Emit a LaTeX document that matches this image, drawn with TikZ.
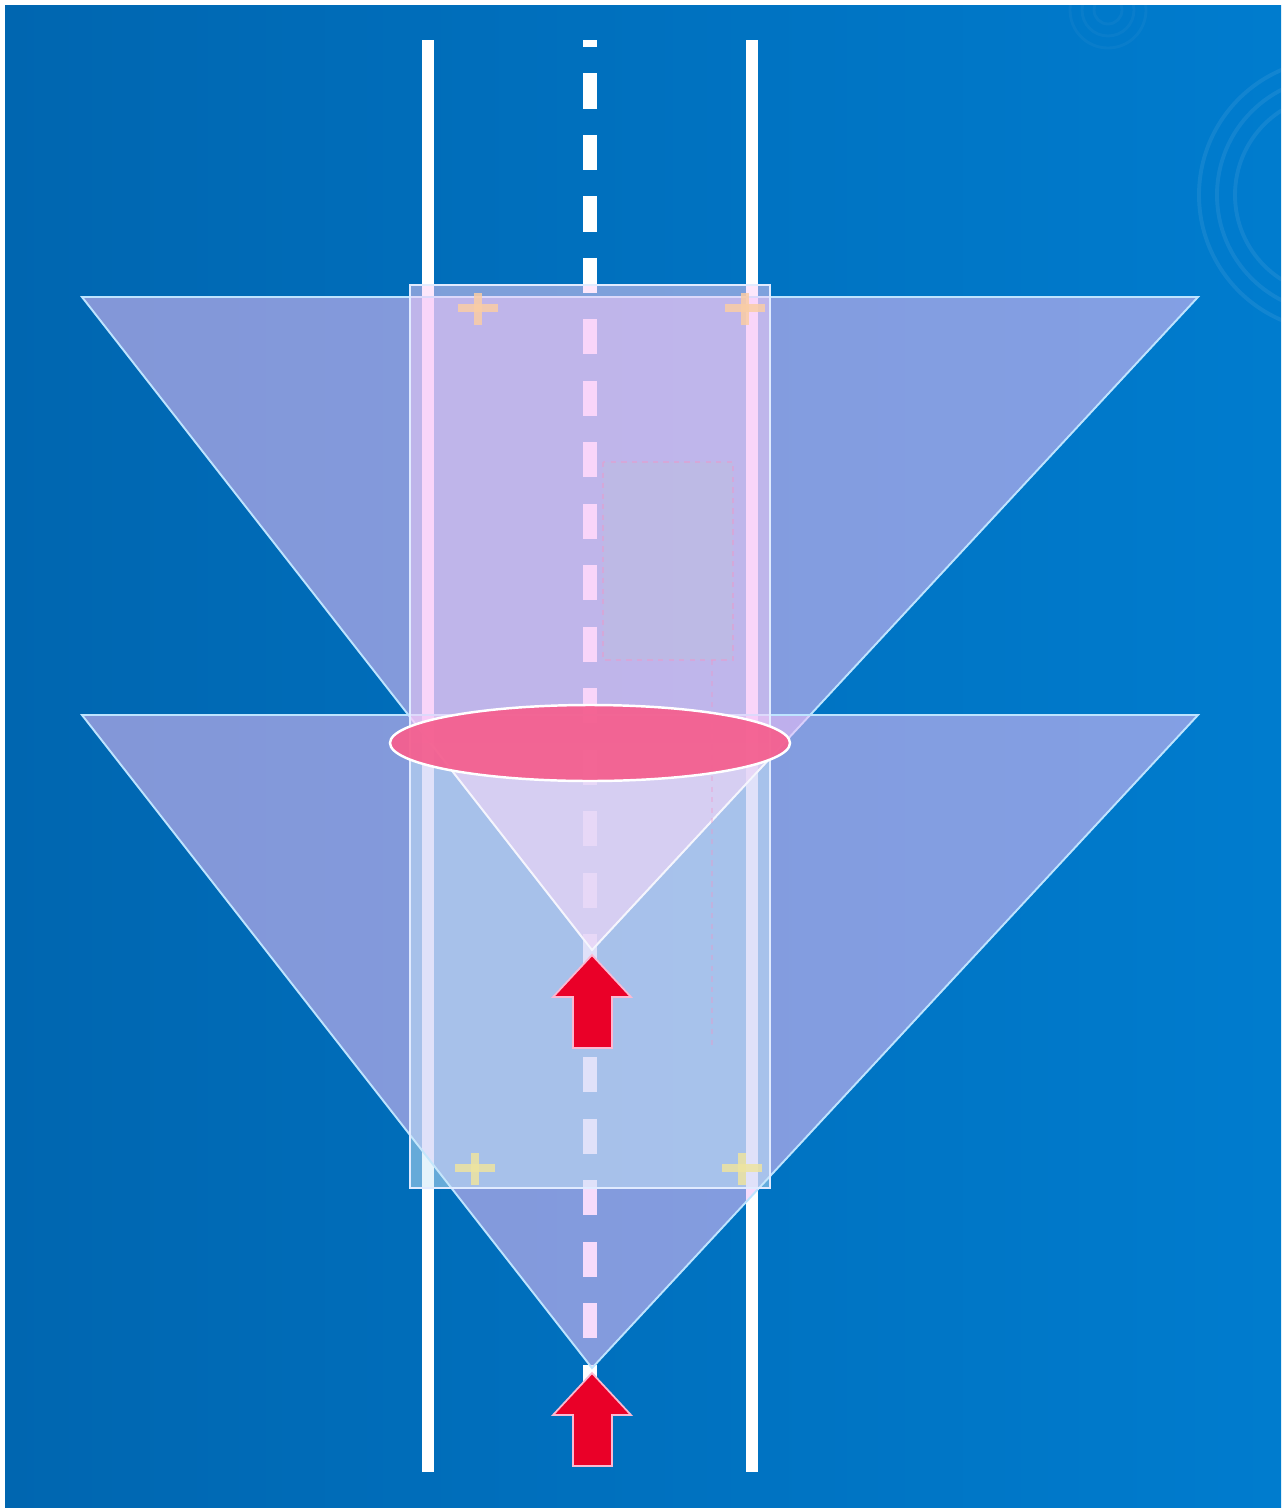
\documentclass[tikz,border=0pt]{standalone}
\usepackage{tikz}
\usetikzlibrary{calc}
\definecolor{roadblue}{RGB}{0,102,176}
\definecolor{roadblueR}{RGB}{0,124,206}
\definecolor{conefill}{RGB}{240,191,248}
\definecolor{boxtop}{RGB}{252,208,248}
\definecolor{boxbot}{RGB}{204,232,248}
\definecolor{lensred}{RGB}{244,96,144}
\definecolor{arrowred}{RGB}{234,0,40}
\definecolor{edgeblue}{RGB}{190,228,255}
\definecolor{markpeach}{RGB}{250,205,165}
\definecolor{markyellow}{RGB}{238,228,160}
\definecolor{boxedge}{RGB}{225,235,255}
\definecolor{dashpink}{RGB}{240,150,200}
\definecolor{seatgrey}{RGB}{185,200,215}
\definecolor{arrowedge}{RGB}{250,185,210}
\definecolor{glowpink}{RGB}{255,215,245}

\begin{document}
\begin{tikzpicture}[x=0.02cm,y=-0.02cm,
  cone/.style={fill=conefill,fill opacity=0.55,draw=edgeblue,line width=1.1pt},
  roadline/.style={draw=white,line width=6.6pt},
  laneline/.style={draw=white,line width=7.5pt,dash pattern=on 20pt off 15pt,dash phase=16pt},
  boxpart/.style={fill opacity=0.5,draw=none},
  carmark/.style={line width=4.6pt,draw opacity=0.85},
  blockarrow/.style={fill=arrowred,draw=arrowedge,line width=1pt}]
  \useasboundingbox (0,0) rectangle (1287,1511);
  % background
  \shade[left color=roadblue,right color=roadblueR] (5,5) rectangle (1281,1507);
  \begin{scope}
    \clip (5,5) rectangle (1281,1507);
    \foreach \r in {100,118,136}
      \draw[white,opacity=0.07,line width=2.2pt] (1335,195) circle (\r);
    \foreach \r in {14,26,38}
      \draw[white,opacity=0.035,line width=1.6pt] (1108,10) circle (\r);
  \end{scope}
  % road
  \draw[roadline] (428,40) -- (428,1472);
  \draw[roadline] (752,40) -- (752,1472);
  \draw[laneline] (590,40) -- (590,1472);
  % beams
  \coordinate (apexA) at (592,950);
  \coordinate (apexB) at (592,1368);
  \draw[cone] (82,297) -- (1198,297) -- (apexA) -- cycle;
  \draw[cone] (82,715) -- (1198,715) -- (apexB) -- cycle;
  % car outline
  \fill[boxpart,boxtop] (410,285) rectangle (770,743);
  \fill[boxpart,boxbot] (410,743) rectangle (770,1188);
  \begin{scope}
    \clip (410,743) rectangle (770,1188);
    \fill[glowpink,fill opacity=0.3] (82,297) -- (1198,297) -- (apexA) -- cycle;
    \draw[white,opacity=0.75,line width=1.1pt] (82,297) -- (apexA) -- (1198,297);
  \end{scope}
  \draw[boxedge,line width=1pt] (410,285) rectangle (770,1188);
  \draw[dashpink,draw opacity=0.45,dashed,line width=1pt,
        fill=seatgrey,fill opacity=0.25] (603,462) rectangle (733,660);
  \draw[dashpink,opacity=0.35,dashed,line width=1.2pt] (712,660) -- (712,1050);
  \foreach \mx/\my/\mc in {478/308/markpeach,745/308/markpeach,475/1168/markyellow,742/1168/markyellow}{
    \draw[carmark,\mc] (\mx-20,\my) -- (\mx+20,\my);
    \draw[carmark,\mc] (\mx,\my-15) -- (\mx,\my+17);
  }
  % lens
  \draw[fill=lensred,fill opacity=0.95,draw=white,line width=1.4pt] (590,743) ellipse (200 and 38);
  % arrows
  \foreach \ty in {955,1373}
    \draw[blockarrow] (592,\ty) -- ++(39,42) -- ++(-19,0) -- ++(0,51) -- ++(-39,0)
      -- ++(0,-51) -- ++(-20,0) -- cycle;
\end{tikzpicture}
\end{document}
